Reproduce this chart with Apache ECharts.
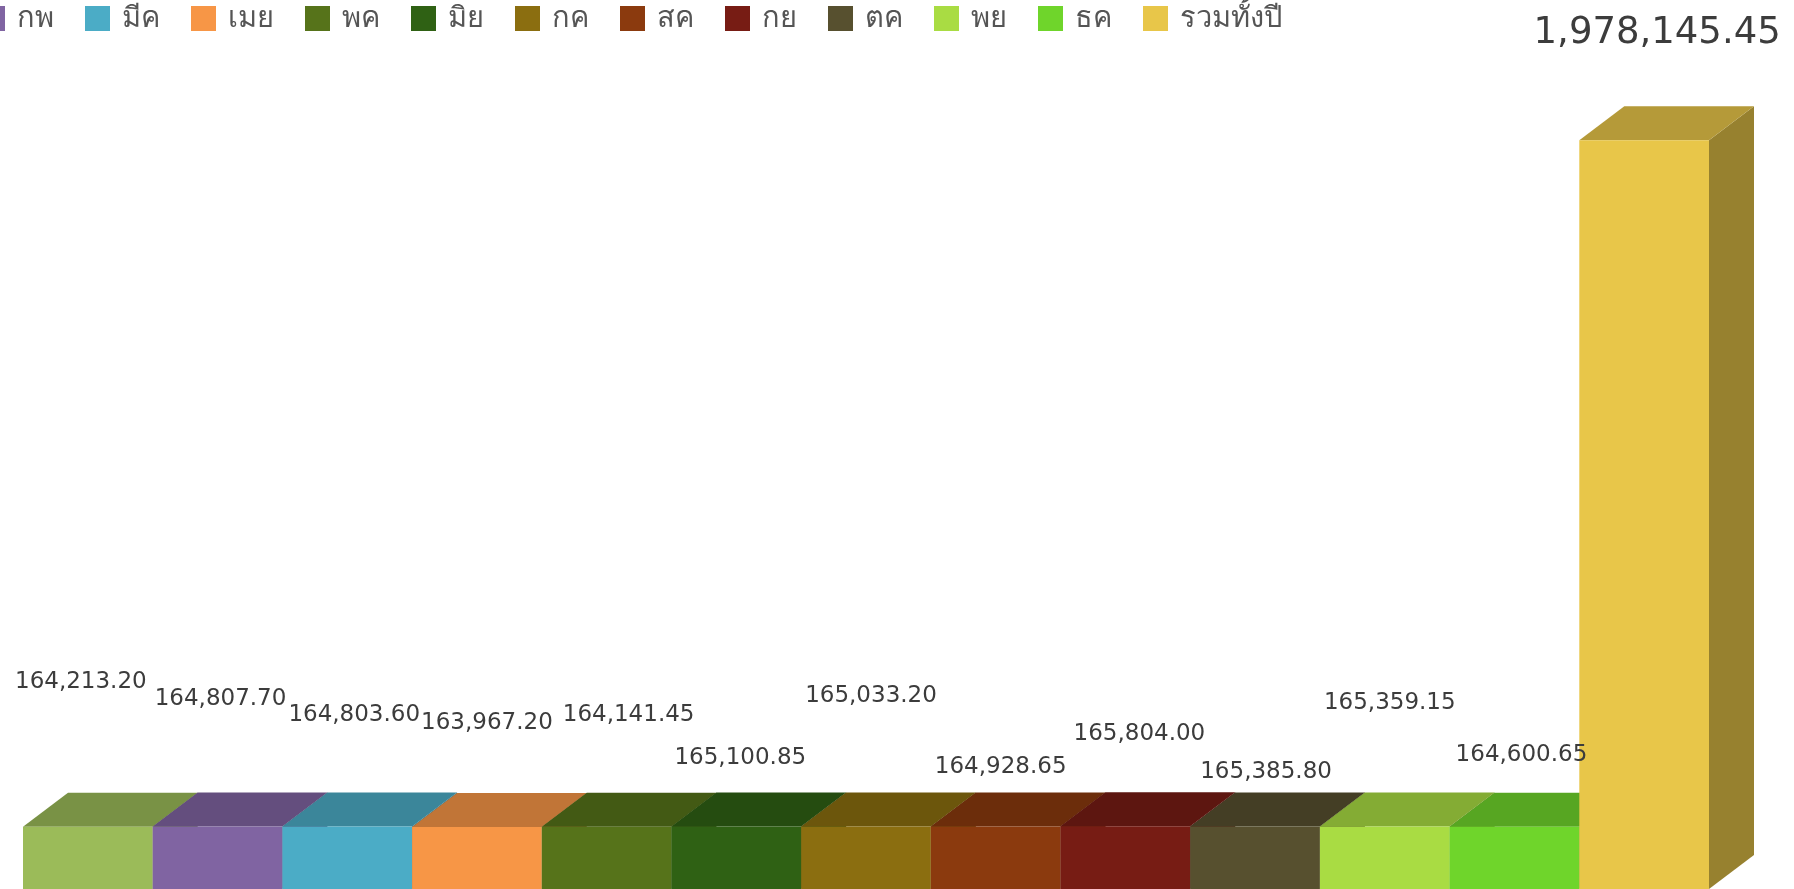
<!DOCTYPE html>
<html>
<head>
<meta charset="utf-8">
<style>
html,body{margin:0;padding:0;background:#fff;}
#chart{width:1794px;height:889px;}
</style>
<script src="https://cdn.jsdelivr.net/npm/echarts@6/dist/echarts.min.js"></script>
</head>
<body>
<div id="chart"></div>
<script>
const categories = ['มค','กพ','มีค','เมย','พค','มิย','กค','สค','กย','ตค','พย','ธค','รวมทั้งปี'];
const values = [164213.20,164807.70,164803.60,163967.20,164141.45,165100.85,165033.20,164928.65,165804.00,165385.80,165359.15,164600.65,1978145.45];
const colors = ['#9BBB59','#8064A2','#4BACC6','#F79646','#56731A','#2F6114','#8B6E10','#8B3A0E','#771C14','#57502F','#A9DC43','#6FD52B','#E8C649'];
// label placement relative to bar top (layout only)
const labelShift = [[-7,-145],[3,-128],[7,-112],[10,-104],[22,-112],[4,-68],[5,-131],[5,-60],[14,-92],[11,-54],[5,-123],[7,-72],[13,-107]];

function shade(hex, f){
  const n = parseInt(hex.slice(1),16);
  const r = Math.round(((n>>16)&255)*f), g = Math.round(((n>>8)&255)*f), b = Math.round((n&255)*f);
  return 'rgb('+r+','+g+','+b+')';
}
function fmt(v){ return v.toLocaleString('en-US',{minimumFractionDigits:2,maximumFractionDigits:2}); }

const DX = 45, DY = 34;
function barRender(params, api){
  const x = api.value(0), v = api.value(1);
  const pt = api.coord([x, v]), pb = api.coord([x, 0]);
  const w = api.size([1, 0])[0];
  const x0 = pt[0] - w/2, x1 = x0 + w, yt = pt[1], yb = pb[1];
  const c = colors[x];
  return {type:'group', children:[
    {type:'polygon', shape:{points:[[x1,yt],[x1+DX,yt-DY],[x1+DX,yb-DY],[x1,yb]]}, style:{fill:shade(c,0.65)}},
    {type:'polygon', shape:{points:[[x0,yt],[x0+DX,yt-DY],[x1+DX,yt-DY],[x1,yt]]}, style:{fill:shade(c,0.78)}},
    {type:'rect', shape:{x:x0, y:yt, width:w, height:yb-yt}, style:{fill:c}}
  ]};
}
function labelRender(params, api){
  const x = api.value(0), v = api.value(1);
  const pt = api.coord([x, v]);
  const s = labelShift[x];
  const big = x === categories.length - 1;
  return {type:'text', x: pt[0] + s[0], y: pt[1] + s[1], style:{
    text: fmt(v), fill:'#3c3c3c', align:'center', verticalAlign:'middle',
    font: (big ? '37px' : '23px') + ' "DejaVu Sans", sans-serif'
  }};
}

const series = categories.map((name, i) => ({
  type:'custom', name: name, renderItem: barRender, z: 2,
  itemStyle:{color: colors[i]},
  data: [[i, values[i]]]
}));
series.push({
  type:'custom', name:'labels', renderItem: labelRender, z: 5, silent:true,
  data: categories.map((c,i)=>[i, values[i]])
});

const chart = echarts.init(document.getElementById('chart'));
chart.setOption({
  animation:false,
  backgroundColor:'#ffffff',
  legend:{
    data: categories, left:-131, top:-1, itemWidth:25, itemHeight:25, itemGap:31,
    icon:'rect',
    textStyle:{fontSize:29, color:'#555555', padding:[0,0,0,7], fontFamily:'"Noto Sans", "DejaVu Sans", sans-serif'}
  },
  grid:{left:23, right:85, top:132, bottom:-5},
  xAxis:{type:'category', data:categories, show:false},
  yAxis:{type:'value', min:0, max:2000000, show:false},
  series: series
});
</script>
</body>
</html>
